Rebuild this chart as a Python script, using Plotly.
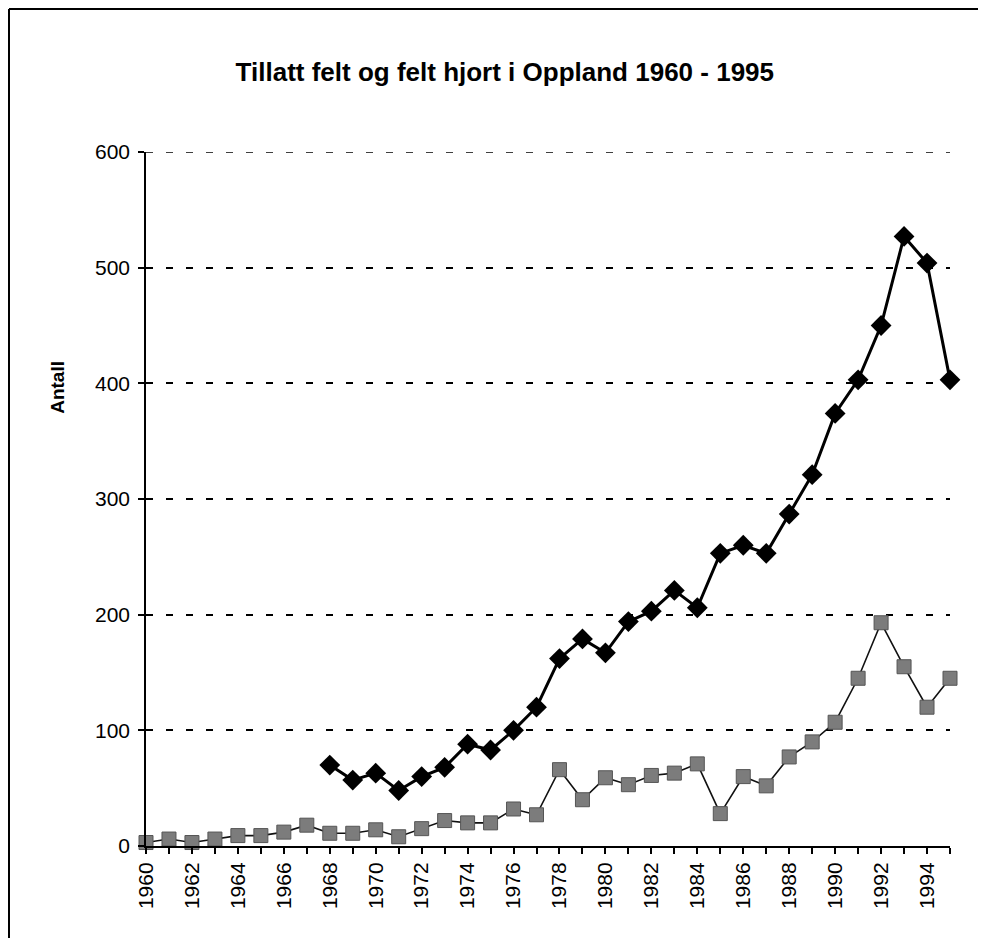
import plotly.graph_objects as go

years = list(range(1960, 1996))
tillatt_felt = [None] * 8 + [70, 57, 63, 48, 60, 68, 88, 83, 100, 120,
                              162, 179, 167, 194, 203, 221, 206, 253, 260, 253,
                              287, 321, 374, 403, 450, 527, 504, 403]
felt = [3, 6, 3, 6, 9, 9, 12, 18, 11, 11, 14, 8, 15, 22, 20, 20, 32, 27,
        66, 40, 59, 53, 61, 63, 71, 28, 60, 52, 77, 90, 107, 145, 193, 155, 120, 145]
x_tick_years = list(range(1960, 1995, 2))
y_ticks = [0, 100, 200, 300, 400, 500, 600]

FONT = "Liberation Sans, Arial, sans-serif"
DASH = "7px,13px"

fig = go.Figure()
fig.add_trace(go.Scatter(
    x=years, y=felt, name="Felt", mode="lines+markers",
    line=dict(color="#111111", width=1.6),
    marker=dict(symbol="square", size=14, color="#7c7c7c",
                line=dict(color="#555555", width=1)),
    cliponaxis=False, connectgaps=False))
fig.add_trace(go.Scatter(
    x=years, y=tillatt_felt, name="Tillatt felt", mode="lines+markers",
    line=dict(color="#000000", width=3),
    marker=dict(symbol="diamond", size=16, color="#000000"),
    cliponaxis=False, connectgaps=False))

fig.update_layout(
    width=978, height=930,
    margin=dict(l=138, r=36, t=144, b=92, autoexpand=False),
    paper_bgcolor="white", plot_bgcolor="white",
    showlegend=False,
    font=dict(family=FONT, color="black", size=21),
    title=dict(text="<b>Tillatt felt og felt hjort i Oppland 1960 - 1995</b>",
               x=0.508, xanchor="center", xref="container", y=0.931, yanchor="middle",
               font=dict(family=FONT, size=26, color="black")),
    xaxis=dict(range=[1960, 1995], tickmode="array", tickvals=x_tick_years,
               ticktext=[str(v) for v in x_tick_years], tickangle=-90,
               showgrid=False, zeroline=False, showline=True,
               linecolor="black", linewidth=2, automargin=False,
               ticks="outside", ticklen=6, tickcolor="black", tickwidth=1.5,
               minor=dict(dtick=1, tick0=1960, ticks="outside", ticklen=6,
                          tickcolor="black", tickwidth=1.5, showgrid=False),
               tickfont=dict(size=21, family=FONT)),
    yaxis=dict(range=[0, 600], tickmode="array", tickvals=y_ticks,
               showgrid=True, gridcolor="black", gridwidth=1.5,
               griddash=DASH, zeroline=False, showline=True,
               linecolor="black", linewidth=1.5, automargin=False,
               ticks="outside", ticklen=6, tickcolor="black", tickwidth=1.5,
               ticklabelstandoff=4,
               tickfont=dict(size=21, family=FONT)),
)

fig.add_annotation(text="<b>Antall</b>", textangle=-90, xref="paper", yref="paper",
                   x=-0.11, y=0.661, xanchor="center", yanchor="middle",
                   showarrow=False, font=dict(size=19, family=FONT, color="black"))

# top gridline at 600 (plotly omits the grid line on the plot edge)
fig.add_shape(type="line", xref="paper", yref="y", x0=0, x1=1, y0=600, y1=600,
              line=dict(color="black", width=1.5, dash=DASH))

# page frame lines (top and left border of the scanned figure)
fig.add_shape(type="line", xref="paper", yref="paper",
              x0=-0.1704, x1=1.045, y0=1.2061, y1=1.2061,
              line=dict(color="black", width=2))
fig.add_shape(type="line", xref="paper", yref="paper",
              x0=-0.1704, x1=-0.1704, y0=1.2061, y1=-0.14,
              line=dict(color="black", width=2))

fig.write_html("out.html")
